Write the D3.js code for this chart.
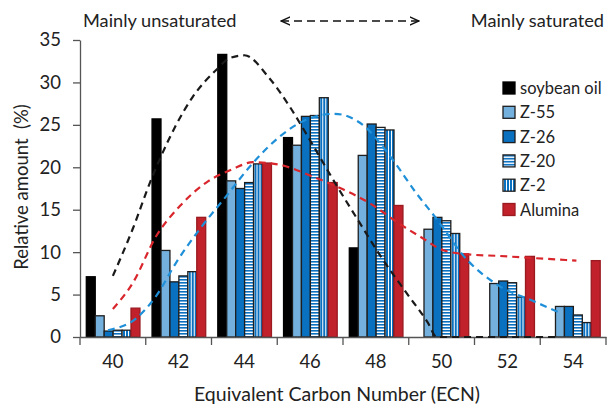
<!DOCTYPE html>
<html>
<head>
<meta charset="utf-8">
<script src="https://cdn.jsdelivr.net/npm/d3@7"></script>
<style>
  body { margin: 0; background: #fff; }
  text { font-family: Lato, "Open Sans", sans-serif; fill: #222; }
</style>
</head>
<body>
<div id="chart"></div>
<script>
// ECN categories and the six series (relative amount, %)
const categories = [40, 42, 44, 46, 48, 50, 52, 54];
const seriesNames = ['soybean oil', 'Z-55', 'Z-26', 'Z-20', 'Z-2', 'Alumina'];
const soybean = [7.1, 25.7, 33.3, 23.5, 10.5, 0, 0, 0];
const z55 = [2.5, 10.2, 18.4, 22.6, 21.4, 12.7, 6.3, 3.6];
const z26 = [0.7, 6.5, 17.5, 26.0, 25.1, 14.1, 6.6, 3.6];
const z20 = [0.8, 7.2, 18.2, 26.1, 24.7, 13.7, 6.4, 2.6];
const z2 = [0.8, 7.7, 20.4, 28.2, 24.4, 12.2, 4.7, 1.7];
const alumina = [3.4, 14.1, 20.5, 18.2, 15.5, 9.8, 9.5, 9.0];
const yTicks = [0, 5, 10, 15, 20, 25, 30, 35];

// dashed trend curves, [ECN, %]
const soyCurve = [[40.0, 7.2], [40.6, 12.7], [41.17, 18.6], [41.42, 20.9], [42.43, 28.3],
  [43.15, 31.5], [43.55, 32.85], [44.0, 33.2], [44.74, 30.6], [45.37, 27.2], [45.98, 23.3],
  [46.69, 18.6], [47.5, 13.5], [48.2, 9.2], [48.92, 5.25], [49.58, 1.7], [49.85, 0],
  [53.5, 0]];
const zeoCurve = [[39.85, 0.8], [40.71, 2.2], [41.32, 4.85], [41.93, 8.8], [42.64, 12.7],
  [43.45, 16.6], [44.26, 20.5], [45.07, 23.6], [45.88, 25.6], [46.75, 26.3], [47.6, 25.0],
  [48.51, 20.9], [49.22, 17.0], [49.83, 14.0], [50.75, 9.2], [51.76, 6.0], [52.77, 4.26],
  [53.58, 2.9]];
const aluCurve = [[40.0, 3.3], [40.61, 6.4], [41.32, 11.9], [42.03, 15.4], [42.84, 18.2],
  [43.65, 19.8], [44.26, 20.6], [45.07, 20.3], [46.08, 18.9], [47.0, 17.4], [47.8, 15.8],
  [48.73, 13.3], [49.4, 11.7], [50.0, 10.3], [50.75, 9.75], [51.76, 9.55], [52.8, 9.3],
  [54.1, 9.0]];

const width = 609;
const height = 406;
const plot = { left: 80, right: 606, top: 40, bottom: 337 };

const values = [soybean, z55, z26, z20, z2, alumina];
const fills = ['#000', '#74b0de', '#0a70c0', 'url(#hstripe)', 'url(#vstripe)', '#c0212b'];
const strokes = ['#000', '#1e1e1e', '#1e1e1e', '#1e1e1e', '#1e1e1e', '#9a1a20'];

const svg = d3.select('#chart').append('svg')
  .attr('width', width)
  .attr('height', height);

// patterns for Z-20 (horizontal stripes) and Z-2 (vertical stripes)
const defs = svg.append('defs');
const hp = defs.append('pattern').attr('id', 'hstripe')
  .attr('patternUnits', 'userSpaceOnUse').attr('width', 4).attr('height', 3);
hp.append('rect').attr('width', 4).attr('height', 3).attr('fill', '#fff');
hp.append('rect').attr('width', 4).attr('height', 1.6).attr('fill', '#0a70c0');
const vp = defs.append('pattern').attr('id', 'vstripe')
  .attr('patternUnits', 'userSpaceOnUse').attr('width', 3).attr('height', 4);
vp.append('rect').attr('width', 3).attr('height', 4).attr('fill', '#0a70c0');
vp.append('rect').attr('width', 1).attr('height', 4).attr('fill', '#fff');

const x = d3.scaleBand().domain(categories).range([plot.left, plot.right]);
const xSub = d3.scaleBand().domain(d3.range(seriesNames.length))
  .range([6.3, x.bandwidth() - 5.8]);
const y = d3.scaleLinear().domain([0, 35]).range([plot.bottom, plot.top]);
// continuous ECN scale for the curves, band centres line up with categories
const xLin = d3.scaleLinear().domain([39, 55]).range([plot.left, plot.right]);

// bars
const groups = svg.append('g').selectAll('g')
  .data(categories)
  .join('g')
  .attr('transform', (d) => `translate(${x(d)},0)`);

groups.selectAll('rect')
  .data((d, i) => values.map((v, s) => ({ s, v: v[i] })).filter((d) => d.v > 0))
  .join('rect')
  .attr('x', (d) => xSub(d.s))
  .attr('y', (d) => y(d.v))
  .attr('width', xSub.bandwidth())
  .attr('height', (d) => y(0) - y(d.v))
  .attr('fill', (d) => fills[d.s])
  .attr('stroke', (d) => strokes[d.s])
  .attr('stroke-width', 1.3);

// axes
const xAxis = svg.append('g')
  .attr('transform', `translate(0,${plot.bottom})`)
  .call(d3.axisBottom(x).tickSize(0).tickPadding(18));
xAxis.select('.domain').attr('stroke', '#555').attr('stroke-width', 1.3);
xAxis.selectAll('text').style('font-size', '18.5px').attr('fill', '#222');
// boundary ticks between categories
xAxis.selectAll('.bound')
  .data(categories.concat([null]))
  .join('line')
  .attr('class', 'bound')
  .attr('x1', (d, i) => plot.left + i * x.step())
  .attr('x2', (d, i) => plot.left + i * x.step())
  .attr('y1', 0).attr('y2', 8)
  .attr('stroke', '#555').attr('stroke-width', 1.3);

const yAxis = svg.append('g')
  .attr('transform', `translate(${plot.left},0)`)
  .call(d3.axisLeft(y).tickValues(yTicks).tickSize(7).tickPadding(12).tickSizeOuter(0));
yAxis.selectAll('.domain, line').attr('stroke', '#555').attr('stroke-width', 1.3);
yAxis.selectAll('text').style('font-size', '18.5px').attr('fill', '#222');

// dashed curves, drawn over the axes like in the figure
const line = d3.line()
  .x((d) => xLin(d[0]))
  .y((d) => y(d[1]))
  .curve(d3.curveMonotoneX);
[[soyCurve, '#1a1a1a'], [zeoCurve, '#1f8fd8'], [aluCurve, '#d9262c']].forEach(([c, col]) => {
  svg.append('path')
    .attr('d', line(c))
    .attr('fill', 'none')
    .attr('stroke', col)
    .attr('stroke-width', 2.2)
    .attr('stroke-dasharray', '7,5');
});

// axis titles
svg.append('text')
  .attr('x', 337).attr('y', 401)
  .attr('text-anchor', 'middle')
  .style('font-size', '19.5px')
  .text('Equivalent Carbon Number (ECN)');
svg.append('text')
  .attr('transform', 'translate(28,187) rotate(-90)')
  .attr('text-anchor', 'middle')
  .style('font-size', '18.5px')
  .attr('xml:space', 'preserve')
  .text('Relative amount  (%)');

// header labels and arrow
svg.append('text').attr('x', 83).attr('y', 27).style('font-size', '18.2px')
  .text('Mainly unsaturated');
svg.append('text').attr('x', 604).attr('y', 27).attr('text-anchor', 'end')
  .style('font-size', '18.2px').text('Mainly saturated');
defs.append('marker').attr('id', 'arr')
  .attr('viewBox', '0 0 10 10').attr('refX', 9).attr('refY', 5)
  .attr('markerWidth', 7).attr('markerHeight', 7).attr('orient', 'auto-start-reverse')
  .append('path').attr('d', 'M0,1 L9,5 L0,9').attr('fill', 'none')
  .attr('stroke', '#111').attr('stroke-width', 1.4);
svg.append('line')
  .attr('x1', 281).attr('x2', 419).attr('y1', 21).attr('y2', 21)
  .attr('stroke', '#111').attr('stroke-width', 1.5)
  .attr('stroke-dasharray', '8,5')
  .attr('marker-start', 'url(#arr)').attr('marker-end', 'url(#arr)');

// legend
const legend = svg.append('g').attr('transform', 'translate(503,88)');
const rows = legend.selectAll('g')
  .data(seriesNames)
  .join('g')
  .attr('transform', (d, i) => `translate(0,${i * 24.3})`);
rows.append('rect')
  .attr('x', 0).attr('y', -6).attr('width', 12).attr('height', 12)
  .attr('fill', (d, i) => fills[i])
  .attr('stroke', (d, i) => strokes[i])
  .attr('stroke-width', 1.3);
rows.append('text')
  .attr('x', 17).attr('y', 6)
  .style('font-size', '16.5px')
  .text((d) => d);
</script>
</body>
</html>
